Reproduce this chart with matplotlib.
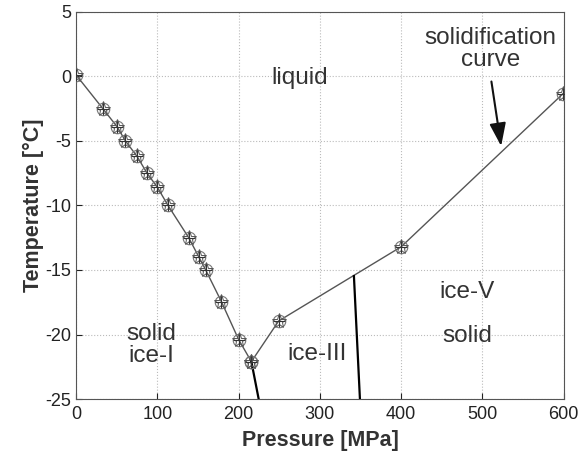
import numpy as np
import matplotlib.pyplot as plt

plt.rcParams['font.family'] = ['Liberation Sans', 'DejaVu Sans']
plt.rcParams['axes.unicode_minus'] = False

# melting curve of ice-I (pressure MPa, temperature degC)
p_ice1 = [0, 32.8, 50.3, 60.6, 74.9, 87.2, 100, 113, 138.5, 151, 159.4, 178.7, 200, 215.6]
t_ice1 = [0.1, -2.5, -3.9, -5.0, -6.2, -7.5, -8.6, -10.0, -12.5, -14.0, -15.0, -17.45, -20.4, -22.1]

# solidification curve ice-III / ice-V
p_high = [215.6, 249.2, 400, 599]
t_high = [-22.1, -18.95, -13.2, -1.35]

# phase boundaries without markers
p_i_iii = [215.6, 224.6]
t_i_iii = [-22.1, -25]
p_iii_v = [341.8, 349.2]
t_iii_v = [-15.47, -25]

fig = plt.figure(figsize=(5.86, 4.54), dpi=100)
ax = fig.add_axes([0.13, 0.121, 0.832, 0.853])

line_col = '#555555'
ax.plot(p_ice1, t_ice1, color=line_col, lw=1.0, zorder=3)
ax.plot(p_high, t_high, color=line_col, lw=1.0, zorder=3)
ax.plot(p_i_iii, t_i_iii, color='black', lw=1.6, zorder=3)
ax.plot(p_iii_v, t_iii_v, color='black', lw=1.6, zorder=3)

# star-in-circle markers
for px, py in [(p_ice1, t_ice1), (p_high, t_high)]:
    ax.plot(px, py, ls='none', marker='o', ms=9, mfc='none', mec='#777777', mew=0.8, zorder=4)
    ax.plot(px, py, ls='none', marker='*', ms=11, mfc='none', mec='#555555', mew=0.7, zorder=4)
    ax.plot(px, py, ls='none', marker='+', ms=8, mec='#333333', mew=0.8, zorder=4)

ax.set_xlim(0, 600)
ax.set_ylim(-25, 5)
ax.set_xticks([0, 100, 200, 300, 400, 500, 600])
ax.set_yticks([-25, -20, -15, -10, -5, 0, 5])
ax.tick_params(direction='in', labelsize=13, colors='#222222', length=4)
ax.tick_params(axis='x', pad=5)
ax.grid(True, ls=':', color='#bbbbbb', lw=0.8)
for s in ax.spines.values():
    s.set_color('#555555')

ax.set_xlabel('Pressure [MPa]', fontsize=15.5, fontweight='bold', color='#333333', labelpad=5)
ax.set_ylabel('Temperature [°C]', fontsize=15.5, fontweight='bold', color='#333333', labelpad=1)

fs = 17.5
tc = '#333333'
ax.text(275, -0.1, 'liquid', fontsize=fs, color=tc, ha='center', va='center')
ax.text(93, -20.8, 'solid\nice-I', fontsize=fs, color=tc, ha='center', va='center', linespacing=1.0)
ax.text(297, -21.5, 'ice-III', fontsize=fs, color=tc, ha='center', va='center')
ax.text(481, -16.7, 'ice-V', fontsize=fs, color=tc, ha='center', va='center')
ax.text(481, -20.1, 'solid', fontsize=fs, color=tc, ha='center', va='center')
ax.text(510, 2.1, 'solidification\ncurve', fontsize=fs, color=tc, ha='center', va='center', linespacing=1.0)
ax.annotate('', xy=(523, -5.4), xytext=(511, -0.4),
            arrowprops=dict(arrowstyle='-|>,head_length=1.4,head_width=0.5', color='#111111', lw=1.5,
                            shrinkA=0, shrinkB=0))

fig.savefig('out.png', dpi=100)
